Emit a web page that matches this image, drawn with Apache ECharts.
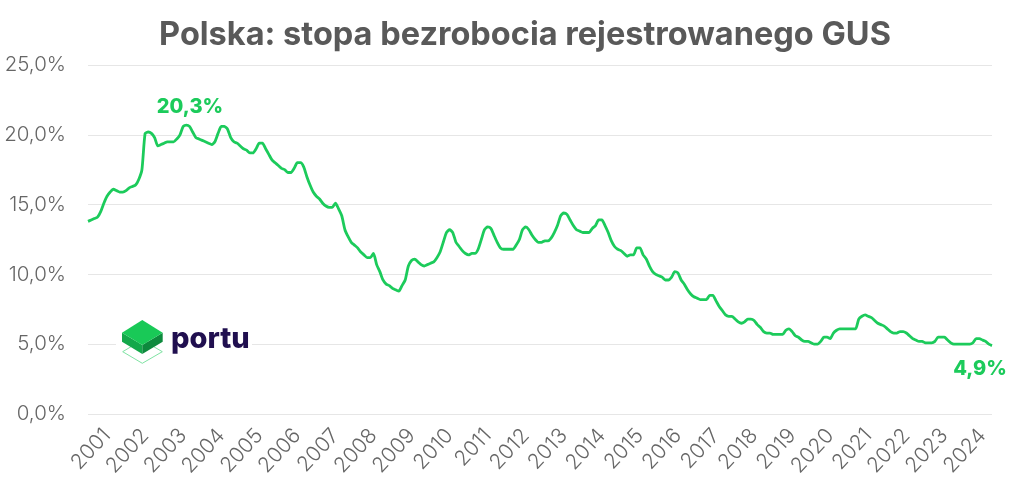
<!DOCTYPE html>
<html><head><meta charset="utf-8">
<style>html,body{margin:0;padding:0;background:#fff}#c{width:1024px;height:491px}</style>
<script src="https://cdn.jsdelivr.net/npm/echarts@6/dist/echarts.min.js"></script>
</head><body><div id="c"></div>
<script>
const titleText = 'Polska: stopa bezrobocia rejestrowanego GUS';
const firstYear = 2000, firstMonth = 9;
const values2000s = [13.8,13.9,14.0,14.1,14.5,15.1,15.6,15.9,16.1,16.0,15.9,15.9,16.0,16.2,16.3,16.4,16.8,17.5,20.1,20.2,20.1,19.8,19.2,19.3,19.4,19.5,19.5,19.5,19.7,20.0,20.6,20.7,20.6,20.2,19.8,19.7,19.6,19.5,19.4,19.3,19.5,20.1,20.6,20.6,20.4,19.8,19.5,19.4,19.2,19.0,18.9,18.7,18.7,19.0,19.4,19.4,19.0,18.6,18.2,18.0,17.8,17.6,17.5,17.3,17.3,17.6,18.0,18.0,17.7,17.0,16.4,15.9,15.6,15.4,15.1,14.9,14.8,14.8,15.1,14.7,14.2,13.2,12.7,12.3,12.1,11.9,11.6,11.4,11.2,11.2,11.5,10.7];
const values2010s = [10.2,9.6,9.3,9.2,9.0,8.9,8.8,9.2,9.6,10.6,11.0,11.1,10.9,10.7,10.6,10.7,10.8,10.9,11.2,11.6,12.3,13.0,13.2,13.0,12.3,12.0,11.7,11.5,11.4,11.5,11.5,11.8,12.5,13.2,13.4,13.3,12.8,12.3,11.9,11.8,11.8,11.8,11.8,12.1,12.5,13.2,13.4,13.2,12.8,12.5,12.3,12.3,12.4,12.4,12.6,13.0,13.5,14.2,14.4,14.3,13.9,13.5,13.2,13.1,13.0,13.0,13.0,13.3,13.5,13.9,13.9,13.5,13.0,12.4,12.0,11.8,11.7,11.5,11.3,11.4,11.4,11.9,11.9,11.4,11.1,10.6,10.2,10.0,9.9,9.8,9.6,9.6,9.8,10.2,10.1,9.6];
const values2020s = [9.3,8.9,8.6,8.4,8.3,8.2,8.2,8.2,8.5,8.5,8.1,7.7,7.4,7.1,7.0,7.0,6.8,6.6,6.5,6.6,6.8,6.8,6.7,6.4,6.2,5.9,5.8,5.8,5.7,5.7,5.7,5.7,6.0,6.1,5.9,5.6,5.5,5.3,5.2,5.2,5.1,5.0,5.0,5.2,5.5,5.5,5.4,5.8,6.0,6.1,6.1,6.1,6.1,6.1,6.1,6.8,7.0,7.1,7.0,6.9,6.7,6.5,6.4,6.3,6.1,5.9,5.8,5.8,5.9,5.9,5.8,5.6,5.4,5.3,5.2,5.2,5.1,5.1,5.1,5.2,5.5,5.5,5.5,5.3,5.1,5.0,5.0,5.0,5.0,5.0,5.0,5.1,5.4,5.4,5.3,5.2,5.0,4.9];
const values = values2000s.concat(values2010s, values2020s);
const categories = values.map((_, i) => {
  const m = firstMonth - 1 + i;
  return (firstYear + Math.floor(m / 12)) + '-' + String(m % 12 + 1).padStart(2, '0');
});
const labelOffset = 6;
const peakLabel = '20,3%', lastLabel = '4,9%', logoText = 'portu';
const GREEN = '#1ccb5b', FONT = 'Inter, "Open Sans", sans-serif';

const chart = echarts.init(document.getElementById('c'), null, {renderer: 'canvas'});
chart.setOption({
  animation: false,
  backgroundColor: '#fff',
  title: {text: titleText, left: 520, top: 14, textAlign: 'center',
    textStyle: {fontFamily: FONT, fontWeight: 700, fontSize: 32.5, color: '#595959'}},
  grid: {left: 88, right: 32, top: 65, bottom: 77},
  xAxis: {type: 'category', data: categories, boundaryGap: false,
    axisLine: {show: false}, axisTick: {show: false},
    axisLabel: {rotate: 47, margin: 18, fontFamily: FONT, fontWeight: 300, fontSize: 21, color: '#666666',
      interval: i => i % 12 === labelOffset, formatter: v => v.slice(0, 4)}},
  yAxis: {type: 'value', min: 0, max: 25, interval: 5,
    axisLine: {show: false}, axisTick: {show: false},
    splitLine: {lineStyle: {color: '#e6e6e6', width: 1}},
    axisLabel: {margin: 22, fontFamily: FONT, fontWeight: 300, fontSize: 20.5, color: '#666666',
      formatter: v => v.toFixed(1).replace('.', ',') + '%'}},
  series: [{type: 'line', data: values, showSymbol: false, smooth: 0.2, z: 5,
    lineStyle: {color: GREEN, width: 2.8}}],
  graphic: [
    {type: 'rect', z: 1, shape: {x: 116, y: 340, width: 136, height: 9}, style: {fill: '#fff'}},
    {type: 'polygon', z: 2, shape: {points: [[122.7,351.7],[142.3,340],[162.3,351.7],[142.3,363.3]]},
      style: {fill: 'none', stroke: '#7fe3a3', lineWidth: 1}},
    {type: 'polygon', z: 3, shape: {points: [[122,332.7],[142.3,345],[142.3,354],[122,341.7]]}, style: {fill: '#13a84a'}},
    {type: 'polygon', z: 3, shape: {points: [[162.7,332.7],[142.3,345],[142.3,354],[162.7,341.7]]}, style: {fill: '#0d8a3d'}},
    {type: 'polygon', z: 3, shape: {points: [[142.3,320],[162.7,332.7],[142.3,345],[122,332.7]]}, style: {fill: '#19c957'}},
    {type: 'text', z: 3, x: 171, y: 339, style: {text: logoText, fill: '#200f4f', font: '800 29px ' + FONT, textVerticalAlign: 'middle'}},
    {type: 'text', z: 6, x: 190, y: 107, style: {text: peakLabel, fill: GREEN, font: '800 20px ' + FONT, textAlign: 'center', textVerticalAlign: 'middle'}},
    {type: 'text', z: 6, x: 980, y: 369, style: {text: lastLabel, fill: GREEN, font: '800 20px ' + FONT, textAlign: 'center', textVerticalAlign: 'middle'}}
  ]
});
</script></body></html>
